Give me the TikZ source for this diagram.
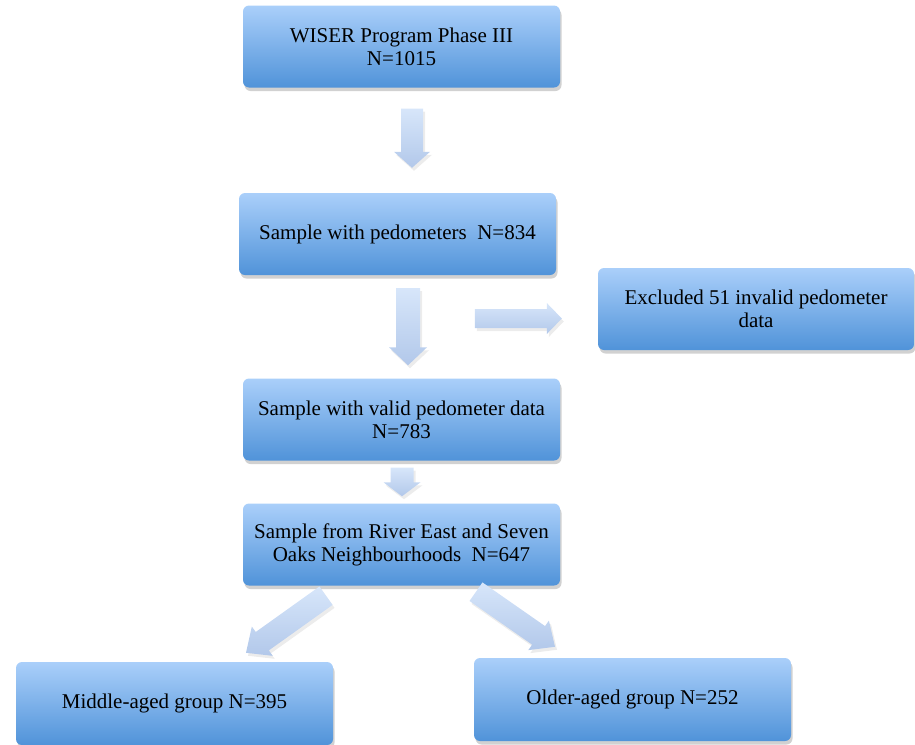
\documentclass[tikz,border=0pt]{standalone}
\usepackage{fontspec}
\setmainfont{Liberation Serif}
\usetikzlibrary{calc,shadows}

\definecolor{boxtop}{RGB}{170,207,250}
\definecolor{boxbot}{RGB}{80,147,217}
\definecolor{arrtop}{RGB}{215,230,250}
\definecolor{arrbot}{RGB}{178,200,234}

% block arrow: from, to, shaft half width, head half width, head length
\newcommand{\blockarrow}[5]{%
  \coordinate (hb) at ($(#2)!#5!(#1)$);
  \shade[arrowfill] ($(#1)!#3!90:(#2)$) -- ($(hb)!#3!90:(#2)$) -- ($(hb)!#4!90:(#2)$) -- (#2)
    -- ($(hb)!#4!-90:(#2)$) -- ($(hb)!#3!-90:(#2)$) -- ($(#1)!#3!-90:(#2)$) -- cycle;
}

\begin{document}
\begin{tikzpicture}[x=1pt,y=-1pt]
\tikzstyle{box} = [rounded corners=6pt, minimum width=317pt, minimum height=82pt, align=center, top color=boxtop, bottom color=boxbot, font=\fontsize{21}{23}\selectfont, drop shadow={shadow xshift=1.5pt,shadow yshift=-3.5pt,opacity=.3,fill=black!60}]
\tikzstyle{arrowfill} = [top color=arrtop, bottom color=arrbot, drop shadow={shadow xshift=2pt,shadow yshift=-3pt,opacity=.15,fill=black!50}]

\useasboundingbox (0,0) rectangle (915,744);

\node[box] (b1) at (401.5,46.5) {WISER Program Phase III\\N=1015};
\node[box,node distance=187.5pt,below of=b1,xshift=-4pt] (b2) {Sample with pedometers\ \ N=834};
\node[box,node distance=185.5pt,below of=b2,xshift=4pt] (b3) {Sample with valid pedometer data\\N=783};
\node[box,node distance=125pt,below of=b3] (b4) {Sample from River East and Seven\\Oaks Neighbourhoods\ \ N=647};

\node[box,minimum width=316pt] (bx) at (756,309) {Excluded 51 invalid pedometer\\data};
\node[box,minimum height=83pt] (bm) at (174.5,703.5) {Middle-aged group N=395};
\node[box,minimum height=83pt] (bo) at (632.5,699.5) {Older-aged group N=252};

% arrow ends
\coordinate (a1s) at ($(b1.south)+(10.5,21)$);
\coordinate (a1e) at ($(b2.north)+(14.5,-25)$);
\coordinate (a2s) at ($(b2.south)+(10.5,13)$);
\coordinate (a2e) at ($(b3.north)+(6.5,-13)$);
\coordinate (a3s) at ($(b3.south)+(0.5,7)$);
\coordinate (a3e) at ($(b4.north)+(0.5,-7)$);
\coordinate (axs) at ($(bx.west)+(-123,9.5)$);
\coordinate (axe) at ($(bx.west)+(-36,9.5)$);
\coordinate (dls) at ($(b4.south)+(-75.5,10)$);
\coordinate (dle) at ($(bm.north)+(71.5,-9)$);
\coordinate (drs) at ($(b4.south)+(74.5,6)$);
\coordinate (dre) at ($(bo.north)+(-77.5,-11)$);

\blockarrow{a1s}{a1e}{11pt}{18pt}{16pt}
\blockarrow{a2s}{a2e}{12pt}{19pt}{18pt}
\blockarrow{a3s}{a3e}{11.5pt}{18.5pt}{14pt}
\blockarrow{axs}{axe}{9.5pt}{15.5pt}{15pt}
\blockarrow{dls}{dle}{11.3pt}{18pt}{20pt}
\blockarrow{drs}{dre}{11.3pt}{18pt}{20pt}

\end{tikzpicture}
\end{document}
